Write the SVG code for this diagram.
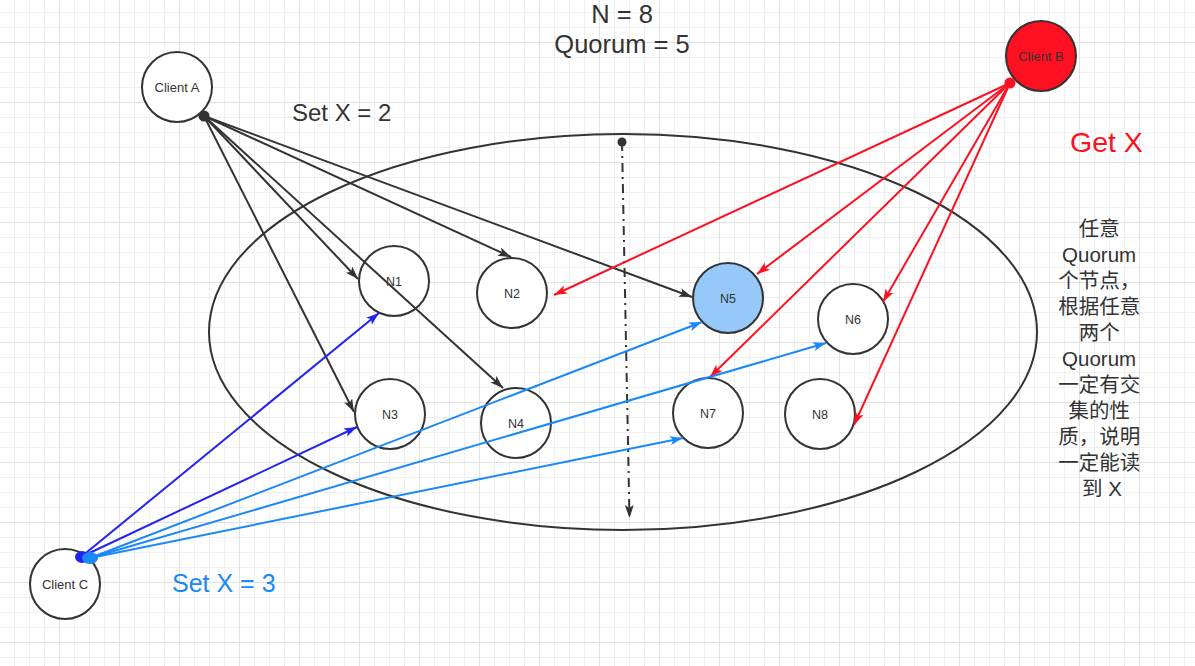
<svg xmlns="http://www.w3.org/2000/svg" width="1195" height="666" viewBox="0 0 1195 666">
<style>
.t{font-family:"Liberation Sans","Noto Sans CJK SC",sans-serif;fill:#333;}
.node{fill:#fff;stroke:#333;stroke-width:2;}
.lbl{font-size:12.5px;text-anchor:middle;}
.clbl{font-size:13px;text-anchor:middle;}
.k{stroke:#333;stroke-width:2;fill:none;}
.r{stroke:#ff1020;stroke-width:2;fill:none;}
.db{stroke:#2222f5;stroke-width:2;fill:none;}
.lb{stroke:#1a88f8;stroke-width:2;fill:none;}
</style>
<defs>
<pattern id="grid" x="0" y="-17" width="60" height="60" patternUnits="userSpaceOnUse">
<path d="M14.5 0V60M29.5 0V60M44.5 0V60M0 14.5H60M0 29.5H60M0 44.5H60" stroke="#efefef" stroke-width="1" fill="none"/>
<path d="M59.5 0V60M0 59.5H60" stroke="#e2e2e2" stroke-width="1" fill="none"/>
</pattern>
<marker id="ak" markerUnits="userSpaceOnUse" markerWidth="14" markerHeight="10" refX="13" refY="4.5" orient="auto"><path d="M0,0L13,4.5L0,9L3,4.5Z" fill="#333"/></marker>
<marker id="ar" markerUnits="userSpaceOnUse" markerWidth="14" markerHeight="10" refX="13" refY="4.5" orient="auto"><path d="M0,0L13,4.5L0,9L3,4.5Z" fill="#ff1020"/></marker>
<marker id="adb" markerUnits="userSpaceOnUse" markerWidth="14" markerHeight="10" refX="13" refY="4.5" orient="auto"><path d="M0,0L13,4.5L0,9L3,4.5Z" fill="#2222f5"/></marker>
<marker id="alb" markerUnits="userSpaceOnUse" markerWidth="14" markerHeight="10" refX="13" refY="4.5" orient="auto"><path d="M0,0L13,4.5L0,9L3,4.5Z" fill="#1a88f8"/></marker>
</defs>
<rect width="1195" height="666" fill="#fff"/>
<rect width="1195" height="666" fill="url(#grid)"/>

<g id="cluster">
<ellipse cx="623" cy="332" rx="414" ry="198" fill="none" stroke="#333" stroke-width="2"/>
</g>

<g id="n1"><circle class="node" cx="394" cy="281" r="35"/><text class="t lbl" x="394" y="285.5">N1</text></g>
<g id="n2"><circle class="node" cx="512" cy="293" r="35"/><text class="t lbl" x="512" y="297.5">N2</text></g>
<g id="n3"><circle class="node" cx="390" cy="414" r="35"/><text class="t lbl" x="390" y="418.5">N3</text></g>
<g id="n4"><circle class="node" cx="516" cy="423" r="35"/><text class="t lbl" x="516" y="427.5">N4</text></g>
<g id="n5"><circle class="node" cx="728" cy="298" r="35" style="fill:#96c8f9"/><text class="t lbl" x="728" y="302.5">N5</text></g>
<g id="n6"><circle class="node" cx="853" cy="319" r="35"/><text class="t lbl" x="853" y="323.5">N6</text></g>
<g id="n7"><circle class="node" cx="708" cy="413" r="35"/><text class="t lbl" x="708" y="417.5">N7</text></g>
<g id="n8"><circle class="node" cx="820" cy="414" r="35"/><text class="t lbl" x="820" y="418.5">N8</text></g>

<g id="clientA"><circle class="node" cx="177" cy="87" r="35"/><text class="t clbl" x="177" y="92">Client A</text></g>
<g id="clientB"><circle class="node" cx="1041" cy="56" r="35" style="fill:#ff1020"/><text class="t clbl" x="1041" y="61">Client B</text></g>
<g id="clientC"><circle class="node" cx="65" cy="584" r="35"/><text class="t clbl" x="65" y="589">Client C</text></g>

<g id="connectors">
<path class="k" d="M622 142L629.5 518" stroke-dasharray="9 5 2 5" marker-end="url(#ak)"/>
<circle cx="622" cy="142" r="4.5" fill="#333"/>

<path class="k" d="M204 116L358 279" marker-end="url(#ak)"/>
<path class="k" d="M204 116L511 257" marker-end="url(#ak)"/>
<path class="k" d="M204 116L692 297" marker-end="url(#ak)"/>
<path class="k" d="M204 116L354 412" marker-end="url(#ak)"/>
<path class="k" d="M204 116L503 388" marker-end="url(#ak)"/>
<circle cx="204" cy="116" r="5.5" fill="#333"/>

<path class="r" d="M1010 83L554 295" marker-end="url(#ar)"/>
<path class="r" d="M1010 83L757 274" marker-end="url(#ar)"/>
<path class="r" d="M1010 83L883 302" marker-end="url(#ar)"/>
<path class="r" d="M1010 83L710 377" marker-end="url(#ar)"/>
<path class="r" d="M1010 83L854 425" marker-end="url(#ar)"/>
<circle cx="1010" cy="83" r="5.5" fill="#ff1020"/>

<path class="db" d="M81 557L379 313" marker-end="url(#adb)"/>
<path class="db" d="M81 557L357 427" marker-end="url(#adb)"/>
<path class="lb" d="M90 558L702 322" marker-end="url(#alb)"/>
<path class="lb" d="M90 558L826 343" marker-end="url(#alb)"/>
<path class="lb" d="M90 558L683 438" marker-end="url(#alb)"/>
<ellipse cx="82" cy="557" rx="7" ry="6" fill="#2222f5"/>
<ellipse cx="90" cy="558" rx="8" ry="6" fill="#1a88f8"/>
</g>

<g id="labels">
<text class="t" x="622" y="22.5" font-size="25.5" text-anchor="middle">N = 8</text>
<text class="t" x="622" y="52.5" font-size="25.5" text-anchor="middle">Quorum = 5</text>
<text class="t" x="292" y="121" font-size="24">Set X = 2</text>
<text class="t" x="1070" y="152" font-size="28.5" style="fill:#ff1020">Get X</text>
<text class="t" x="172" y="592" font-size="25" style="fill:#1a88f8">Set X = 3</text>
<text class="t" font-size="20.5" text-anchor="middle">
<tspan x="1102" y="236">任意</tspan>
<tspan x="1102" y="262">Quorum</tspan>
<tspan x="1102" y="288">个节点，</tspan>
<tspan x="1102" y="314">根据任意</tspan>
<tspan x="1102" y="340">两个</tspan>
<tspan x="1102" y="366">Quorum</tspan>
<tspan x="1102" y="392">一定有交</tspan>
<tspan x="1102" y="418">集的性</tspan>
<tspan x="1102" y="444">质，说明</tspan>
<tspan x="1102" y="470">一定能读</tspan>
<tspan x="1102" y="496">到 X</tspan>
</text>
</g>
</svg>
